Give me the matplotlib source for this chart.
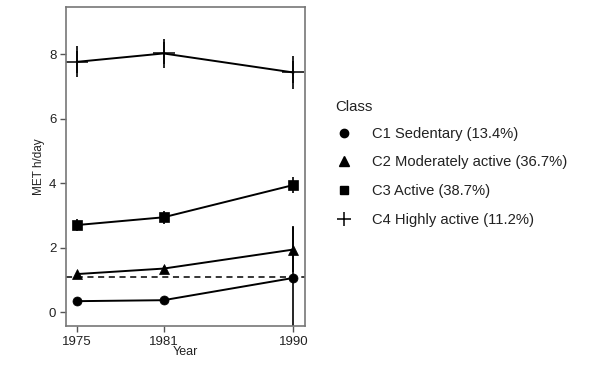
import matplotlib
matplotlib.use("Agg")
import matplotlib.pyplot as plt
from matplotlib.lines import Line2D

years = [1975, 1981, 1990]
classes = ["C1 Sedentary (13.4%)", "C2 Moderately active (36.7%)",
           "C3 Active (38.7%)", "C4 Highly active (11.2%)"]
c1 = [0.34, 0.37, 1.06]
c1_err = [0.05, 0.05, 1.6]
c2 = [1.18, 1.35, 1.94]
c2_err = [0.06, 0.07, 0.7]
c3 = [2.70, 2.94, 3.94]
c3_err = [0.2, 0.2, 0.25]
c4 = [7.76, 8.02, 7.43]
c4_err = [0.48, 0.46, 0.52]
ref_line = 1.1
yticks = [0, 2, 4, 6, 8]

plt.rcParams['font.family'] = ['Liberation Sans', 'DejaVu Sans']
fig = plt.figure(figsize=(5.95, 3.74), dpi=100)
ax = fig.add_axes([66/595, 1-326/374, (305-66)/595, (326-7)/374])

series = [(c1, c1_err, 'o', 6.5), (c2, c2_err, '^', 7.5), (c3, c3_err, 's', 6.5), (c4, c4_err, '+', 16)]
for (vals, errs, mk, ms) in series:
    ax.errorbar(years, vals, yerr=errs, color='black', lw=1.4, elinewidth=1.2,
                capsize=0, marker=mk, markersize=ms, mew=1.1 if mk == '+' else 0.5)

ax.axhline(ref_line, color='black', lw=1.1, ls=(0, (4, 3)))

ax.set_xlim(1974.24, 1990.81)
ax.set_ylim(-0.43, 9.46)
ax.set_xticks(years)
ax.set_yticks(yticks)
ax.tick_params(axis='both', labelsize=9.5, color='#555555', labelcolor='#222222',
               length=4, width=1, direction='out', pad=3)
for s in ax.spines.values():
    s.set_color('#777777')
    s.set_linewidth(1.2)
ax.set_xlabel("Year", fontsize=9, labelpad=-1, color='#222222')
ax.set_ylabel("MET h/day", fontsize=8.5, labelpad=3, color='#222222')

handles = [Line2D([], [], color='black', ls='none', marker='o', markersize=6),
           Line2D([], [], color='black', ls='none', marker='^', markersize=7),
           Line2D([], [], color='black', ls='none', marker='s', markersize=6),
           Line2D([], [], color='black', ls='none', marker='+', markersize=10, mew=1.1)]
leg = fig.legend(handles, classes, title="Class", loc='upper left',
                 bbox_to_anchor=(322/595, 1-87/374), frameon=False,
                 fontsize=10.6, title_fontsize=10.8, handlelength=1.2,
                 handletextpad=1.3, labelspacing=1.0, alignment='left')
leg._legend_box.sep = 9
for t in leg.get_texts():
    t.set_color('#222222')
leg.get_title().set_color('#222222')

fig.savefig("out.png", dpi=100)
